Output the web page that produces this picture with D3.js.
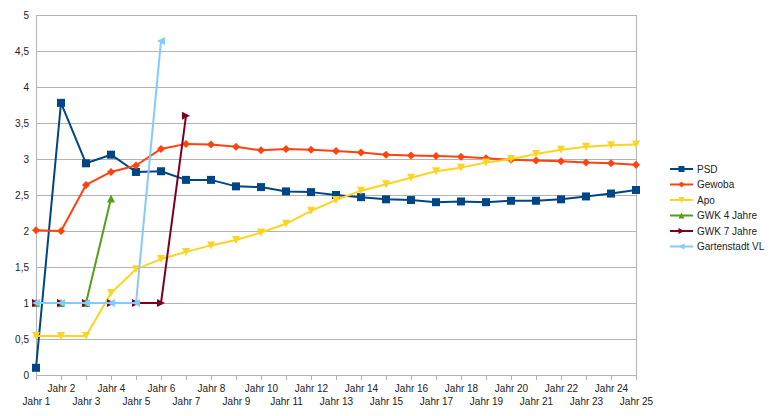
<!DOCTYPE html>
<html><head><meta charset="utf-8">
<script src="https://cdn.jsdelivr.net/npm/d3@7"></script>
<style>body{margin:0;background:#fff;}svg{display:block;font-family:"Liberation Sans",Arial,sans-serif;}</style>
</head><body>
<svg id="c" width="770" height="416"></svg>
<script>
const categories = d3.range(1, 26).map(i => "Jahr " + i);
const yTicks = [0, 0.5, 1, 1.5, 2, 2.5, 3, 3.5, 4, 4.5, 5];
const seriesNames = ["PSD", "Gewoba", "Apo", "GWK 4 Jahre", "GWK 7 Jahre", "Gartenstadt VL"];
const seriesColors = ["#004586", "#ff420e", "#ffd320", "#579d1c", "#7e0021", "#83caff"];
const seriesSymbols = ["square", "diamond", "down", "up", "right", "left"];
const psd = [0.1, 3.78, 2.94, 3.06, 2.82, 2.83, 2.71, 2.71, 2.62, 2.61, 2.55, 2.54, 2.5, 2.47, 2.44, 2.43, 2.4, 2.41, 2.4, 2.42, 2.42, 2.44, 2.48, 2.52, 2.57];
const gewoba = [2.01, 2.0, 2.64, 2.82, 2.91, 3.14, 3.21, 3.2, 3.17, 3.12, 3.14, 3.13, 3.11, 3.09, 3.06, 3.05, 3.04, 3.03, 3.01, 2.99, 2.98, 2.97, 2.95, 2.94, 2.92];
const apo = [0.54, 0.54, 0.54, 1.14, 1.47, 1.61, 1.71, 1.8, 1.875, 1.98, 2.1, 2.28, 2.43, 2.56, 2.65, 2.74, 2.83, 2.88, 2.95, 3.0, 3.07, 3.13, 3.17, 3.19, 3.2];
const gwk4 = [1, 1, 1, 2.45];
const gwk7 = [1, 1, 1, 1, 1, 1, 3.6];
const garten = [1, 1, 1, 1, 1, 4.64];
const seriesValues = [psd, gewoba, apo, gwk4, gwk7, garten];

const svg = d3.select("#c");
const x = d3.scalePoint().domain(categories).range([36, 636]);
const y = d3.scaleLinear().domain([0, 5]).range([375, 15]);

// gridlines
svg.append("g").selectAll("line").data(yTicks).join("line")
  .attr("x1", 36).attr("x2", 636)
  .attr("y1", d => y(d)).attr("y2", d => y(d))
  .attr("stroke", "#b3b3b3").attr("stroke-width", 1).attr("shape-rendering", "crispEdges");
// right border
svg.append("line").attr("x1", 636).attr("x2", 636).attr("y1", 15).attr("y2", 375)
  .attr("stroke", "#b3b3b3").attr("shape-rendering", "crispEdges");

// y axis
const yAxis = svg.append("g").attr("transform", "translate(36,0)")
  .call(d3.axisLeft(y).tickValues(yTicks).tickSize(0).tickPadding(7)
    .tickFormat(d => String(d).replace(".", ",")));
yAxis.select(".domain").attr("stroke", "#b3b3b3");
yAxis.selectAll("text").attr("font-size", 10).attr("fill", "#222").attr("font-family", "Liberation Sans, Arial, sans-serif");

// x axis
const xAxis = svg.append("g").attr("transform", "translate(0,375)")
  .call(d3.axisBottom(x).tickSize(5).tickSizeOuter(0).tickPadding(0));
xAxis.select(".domain").attr("stroke", "#b3b3b3");
xAxis.selectAll(".tick line").attr("stroke", "#b3b3b3");
xAxis.selectAll("text").attr("font-size", 10).attr("fill", "#222")
  .attr("font-family", "Liberation Sans, Arial, sans-serif")
  .attr("dy", null)
  .attr("y", (d, i) => i % 2 === 0 ? 30 : 17);

function symbolPath(kind, s) {
  const h = s / 2;
  switch (kind) {
    case "square": return `M${-h},${-h}H${h}V${h}H${-h}Z`;
    case "diamond": return `M0,${-h}L${h},0L0,${h}L${-h},0Z`;
    case "down": return `M${-h},${-h}L${h},${-h}L0,${h}Z`;
    case "up": return `M${-h},${h}L${h},${h}L0,${-h}Z`;
    case "right": return `M${-h},${-h}L${h},0L${-h},${h}Z`;
    case "left": return `M${h},${-h}L${-h},0L${h},${h}Z`;
  }
}

const line = d3.line().x((d, i) => x(categories[i])).y(d => y(d));
seriesValues.forEach((vals, si) => {
  const g = svg.append("g");
  g.append("path").datum(vals).attr("d", line).attr("fill", "none")
    .attr("stroke", seriesColors[si]).attr("stroke-width", 2).attr("stroke-linejoin", "round");
  g.selectAll("path.m").data(vals).join("path").attr("class", "m")
    .attr("transform", (d, i) => `translate(${x(categories[i])},${y(d)})`)
    .attr("d", symbolPath(seriesSymbols[si], si === 0 ? 8 : (si === 1 ? 8 : 8)))
    .attr("fill", seriesColors[si]);
});

// legend
const legend = svg.append("g");
seriesNames.forEach((n, i) => {
  const ly = 169 + i * 15.5;
  legend.append("line").attr("x1", 670).attr("x2", 693).attr("y1", ly).attr("y2", ly)
    .attr("stroke", seriesColors[i]).attr("stroke-width", 2);
  legend.append("path").attr("transform", `translate(681.5,${ly})`)
    .attr("d", symbolPath(seriesSymbols[i], 6)).attr("fill", seriesColors[i]);
  legend.append("text").attr("x", 697).attr("y", ly).attr("dy", "0.35em")
    .attr("font-size", 10).attr("fill", "#222").text(n);
});
</script>
</body></html>
